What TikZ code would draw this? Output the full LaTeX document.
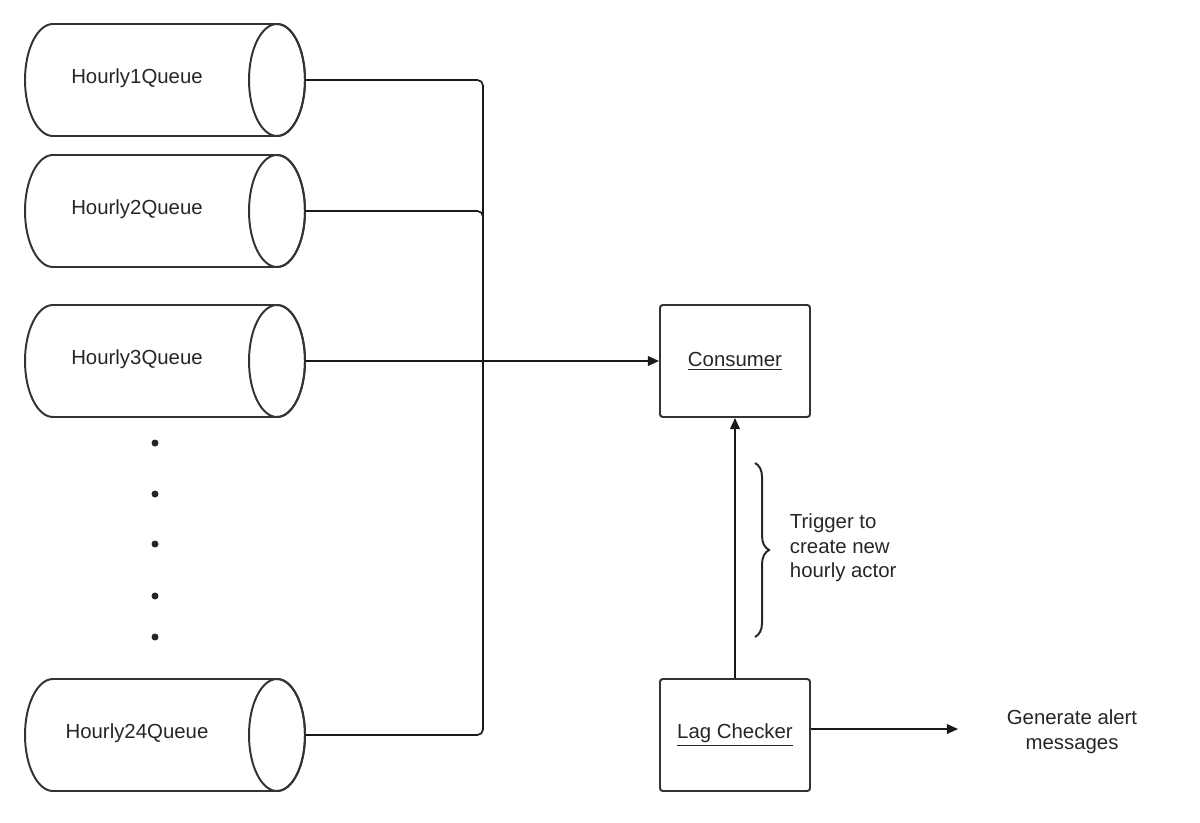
\documentclass[tikz,border=0pt]{standalone}
\usepackage{fontspec}
\setmainfont{Liberation Sans}
\usetikzlibrary{decorations.pathreplacing,arrows.meta}
\begin{document}
\begin{tikzpicture}[x=0.025cm,y=-0.025cm,
  ln/.style={line width=1.2pt,draw=black!90},
  box/.style={line width=1.4pt,draw=black!80,rounded corners=2pt},
  txt/.style={font=\fontsize{14.5}{17.5}\selectfont,text=black!85},
  arr/.style={ln,-{Triangle[length=8pt,width=7pt]}}]
\useasboundingbox (0,0) rectangle (1200,822);
\newcommand{\cyl}[3]{%
  \draw[box,rounded corners=0pt] (53,#1-56) -- (277,#1-56) arc(-90:90:28 and 56) -- (53,#1+56) arc(90:270:28 and 56) -- cycle;
  \draw[box,rounded corners=0pt] (277,#1) ellipse (28 and 56);
  \node[txt] (#3) at (137,#1-2) {#2};
  \coordinate (#3e) at (305,#1);}
\cyl{80}{Hourly1Queue}{q1}
\cyl{211}{Hourly2Queue}{q2}
\cyl{361}{Hourly3Queue}{q3}
\cyl{735}{Hourly24Queue}{q24}
\foreach \y in {443,494,544,596,637} \fill[black!85] (155,\y) circle (3.5);
\node[box,minimum width=150*0.025cm,minimum height=112*0.025cm,txt] (cons) at (735,361) {\underline{Consumer}};
\node[box,minimum width=150*0.025cm,minimum height=112*0.025cm,txt] (lag) at (735,735) {\underline{Lag Checker}};
\coordinate (j) at (483,361);
\draw[ln,rounded corners=4pt] (q1e) -- (483,80) -- (j);
\draw[ln,rounded corners=4pt] (q2e) -- (483,211) -- (j);
\draw[ln,rounded corners=4pt] (q24e) -- (483,735) -- (j);
\draw[arr] (q3e) -- (cons.west);
\draw[arr] (lag.north) -- (cons.south);
\draw[line width=1.4pt,black!85,decorate,decoration={brace,amplitude=10pt}] (755,463) -- (755,637);
\node[txt,align=left,anchor=west] (trig) at (785,548) {Trigger to\\create new\\hourly actor};
\coordinate (alert) at (958,729);
\draw[arr] (lag.east |- alert) -- (alert);
\node[txt,align=center] (gen) at (1072,732) {Generate alert\\messages};
\end{tikzpicture}
\end{document}
